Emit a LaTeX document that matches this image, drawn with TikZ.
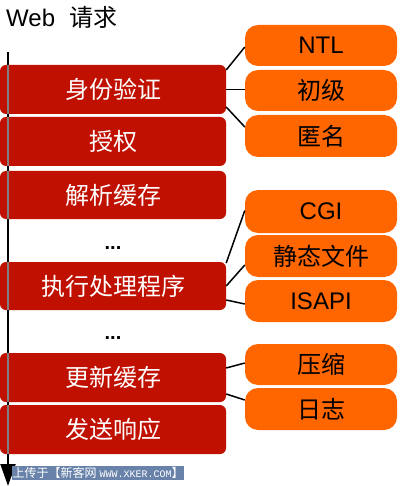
\documentclass[tikz,border=0pt]{standalone}
\usepackage{fontspec}
\setmainfont{Liberation Sans}
\newfontfamily\cjk{Noto Sans CJK SC}
\newfontfamily\wmmono{Liberation Mono}
\usetikzlibrary{arrows.meta}
\definecolor{boxred}{RGB}{192,16,0}
\definecolor{boxorange}{RGB}{255,102,0}
\definecolor{wmblue}{RGB}{104,130,170}
\begin{document}
\begin{tikzpicture}[x=1pt,y=-1pt,
  redbox/.style={fill=boxred, rounded corners=6pt, minimum width=226pt, minimum height=49pt, inner sep=0pt, text=white, font=\cjk\fontsize{24}{24}\selectfont},
  orangebox/.style={fill=boxorange, rounded corners=13pt, minimum width=152pt, minimum height=42pt, inner sep=0pt, text=black, font=\fontsize{24}{24}\selectfont},
  link/.style={draw=black, line width=1.5pt},
  dotsnode/.style={font=\bfseries\fontsize{20}{20}\selectfont, anchor=base, inner sep=0pt},
  axisline/.style={line width=2pt, black},
  axisover/.style={line width=2pt, gray}
]
\useasboundingbox (0,0) rectangle (400,486);

% title
\node[anchor=base west, inner sep=0pt, font=\fontsize{24}{24}\selectfont] (title) at (6,27) {Web\hspace{14pt}{\cjk 请求}};

% time axis
\coordinate (axtop) at (8,52);
\coordinate (axbot) at (8,486);
\draw[axisline, -{Triangle[width=15pt,length=22pt]}] (axtop) -- (axbot);

% red stages
\node[redbox] (b1) at (113,89.5) {身份验证};
\node[redbox] (b2) at (113,141.5) {授权};
\node[redbox, minimum height=48pt] (b3) at (113,195) {解析缓存};
\node[dotsnode] (d1) at (113,249) {...};
\node[redbox, minimum height=48pt] (b4) at (113,286) {执行处理程序};
\node[dotsnode] (d2) at (113,339) {...};
\node[redbox] (b5) at (113,377.5) {更新缓存};
\node[redbox] (b6) at (113,429.5) {发送响应};

% axis over boxes (gray)
\foreach \b in {b1,b2,b3,b4,b5,b6}
  \draw[axisover] (\b.north -| axtop) -- (\b.south -| axtop);

% orange options
\node[orangebox, minimum height=41pt] (o1) at (321,45.5) {NTL};
\node[orangebox, minimum height=41pt] (o2) at (321,90.5) {\cjk 初级};
\node[orangebox] (o3) at (321,136) {\cjk 匿名};
\node[orangebox, minimum height=43pt] (o4) at (321,211.5) {CGI};
\node[orangebox] (o5) at (321,256) {\cjk 静态文件};
\node[orangebox] (o6) at (321,301) {ISAPI};
\node[orangebox, minimum height=41pt] (o7) at (321,364.5) {\cjk 压缩};
\node[orangebox] (o8) at (321,409) {\cjk 日志};

% connectors
\draw[link] ([yshift=19.5pt]b1.east) -- ([yshift=-1.5pt]o1.west);
\draw[link] (b1.east) -- (b1.east -| o2.west);
\draw[link] ([yshift=-17.5pt]b1.east) -- ([yshift=9pt]o3.west);
\draw[link] ([yshift=23pt]b4.east) -- ([yshift=1pt]o4.west);
\draw[link] (b4.east) -- ([yshift=-9pt]o5.west);
\draw[link] ([yshift=-14pt]b4.east) -- ([yshift=-3pt]o6.west);
\draw[link] ([yshift=9.5pt]b5.east) -- ([yshift=1.5pt]o7.west);
\draw[link] ([yshift=-16.5pt]b5.east) -- ([yshift=9pt]o8.west);

% watermark
\node[fill=wmblue, text=white, inner xsep=0.5pt, inner ysep=0pt, minimum height=14pt, anchor=west, font=\cjk\fontsize{12}{12}\selectfont] (wm) at (12,473) {上传于【新客网\hspace{3pt}{\wmmono\fontsize{10}{10}\selectfont WWW.XKER.COM}】};
\end{tikzpicture}
\end{document}
